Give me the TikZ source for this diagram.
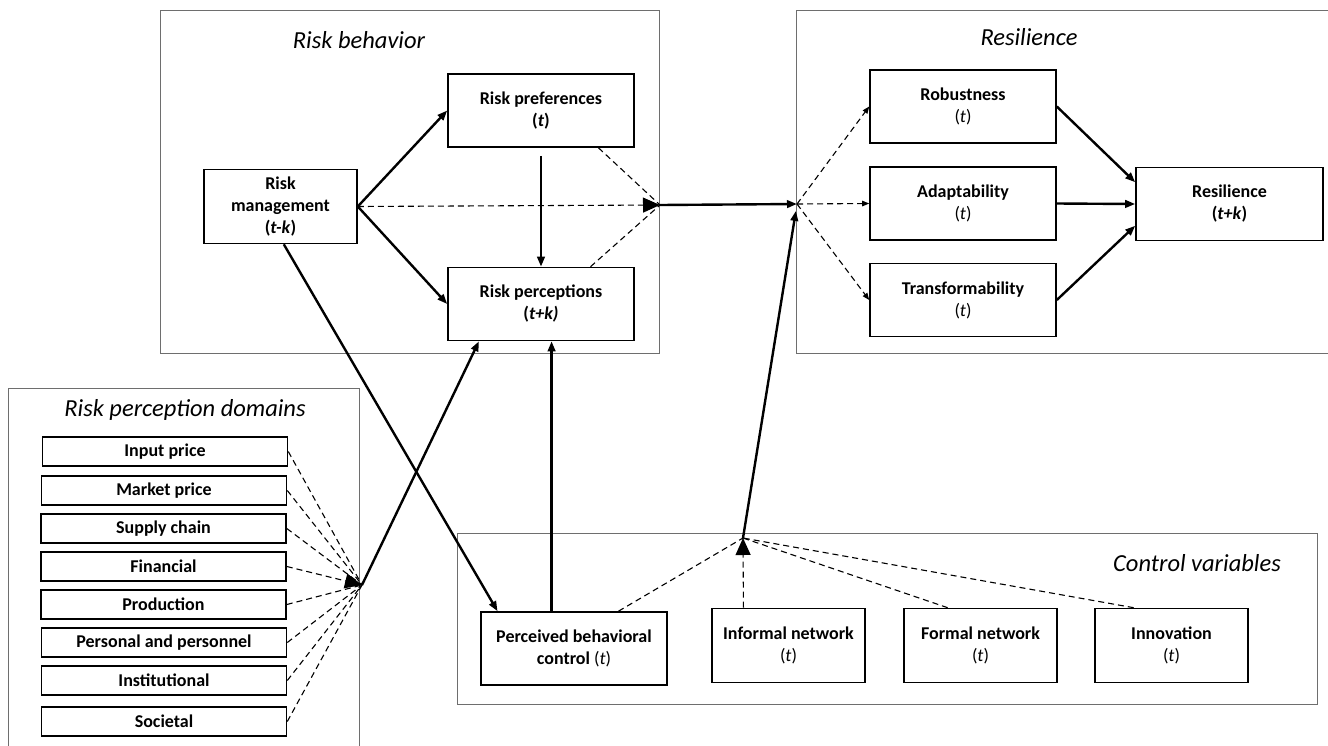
\documentclass[tikz,border=0pt]{standalone}
\usepackage{fontspec}
\setmainfont{Carlito}
\usetikzlibrary{arrows.meta, calc}
\definecolor{frGrey}{HTML}{6E6E6E}
\tikzset{
  frame/.style   = {draw=frGrey, line width=1pt},
  ttl/.style     = {font=\fontsize{24.5}{28}\selectfont\itshape},
  box/.style     = {draw, line width=1.6pt, align=center, inner sep=2pt,
                    font=\fontsize{18}{22}\selectfont\bfseries},
  wbox/.style    = {box, minimum width=186pt, minimum height=73pt},
  nbox/.style    = {box, minimum width=153pt, minimum height=74pt},
  dbox/.style    = {box, minimum width=245pt, minimum height=29pt,
                    font=\fontsize{18}{20}\selectfont\bfseries},
  sarrow/.style  = {-{Triangle[length=10pt,width=7.5pt]}, line width=2.4pt},
  dline/.style   = {line width=1.1pt, dash pattern=on 6pt off 4pt},
  darrow/.style  = {dline, -{Triangle[length=7pt,width=5.5pt]}},
  bigtip/.style  = {-{Triangle[length=17pt,width=15pt]}},
}
\begin{document}
\begin{tikzpicture}[x=1pt,y=-1pt]
  \useasboundingbox (0,0) rectangle (1328,745);
  % frames
  \draw[frame] (160,10) rectangle (659,353);
  \draw[frame] (796,10) rectangle (1340,353);
  \draw[frame] (8,388) rectangle (359,760);
  \draw[frame] (457,533) rectangle (1317,704);
  \node[ttl] (tBehav) at (359,40) {Risk behavior};
  \node[ttl] (tResil) at (1029,37) {Resilience};
  \node[ttl] (tDom) at (185,410) {Risk perception domains};
  \node[ttl] (tCtrl) at (1197,563) {Control variables};

  \node[nbox] (mgmt) at (280.5,206.5) {Risk\\management\\(\textit{t-k})};
  \node[wbox] (pref) at (541,110.5) {Risk preferences\\(\textit{t})};
  \node[wbox] (perc) at (541,304) {Risk perceptions\\(\textit{t+k)}};
  \node[wbox] (rob) at (963,106.5) {Robustness\\\mdseries(\textit{t})};
  \node[wbox] (adapt) at (963,203.5) {Adaptability\\\mdseries(\textit{t})};
  \node[wbox] (trans) at (963,300) {Transformability\\\mdseries(\textit{t})};
  \node[wbox, minimum width=187pt] (resil) at (1229.5,204) {Resilience\\(\textit{t+k})};

  \node[dbox] (dInput) at (165,451.5) {Input price};
  \node[dbox] (dMarket) at (164,490.5) {Market price};
  \node[dbox] (dSupply) at (163.5,528.5) {Supply chain};
  \node[dbox] (dFin) at (163.5,566.5) {Financial};
  \node[dbox] (dProd) at (163.5,604.5) {Production};
  \node[dbox] (dPers) at (164,642.5) {Personal and personnel};
  \node[dbox] (dInst) at (164,680.5) {Institutional};
  \node[dbox] (dSoc) at (164,721.5) {Societal};

  \node[wbox] (pbc) at (574,648.5) {Perceived behavioral\\control \mdseries(\textit{t})};
  \node[nbox] (inf) at (788.5,645.5) {Informal network\\\mdseries(\textit{t})};
  \node[nbox] (form) at (980.5,645.5) {Formal network\\\mdseries(\textit{t})};
  \node[nbox] (innov) at (1171.5,645.5) {Innovation\\\mdseries(\textit{t})};

  \coordinate (jL) at (660,205);
  \coordinate (jR) at (797,204);
  \coordinate (jD) at (362,585);
  \coordinate (jC) at (743,538);

  \draw[sarrow] (mgmt.east) -- (pref.west);
  \draw[sarrow] (mgmt.east) -- (perc.west);
  \draw[sarrow, shorten <=8pt] (pref.south) -- (perc.north);
  \draw[dline] (pref.-33) -- (jL);
  \draw[dline] (perc.37) -- (jL);
  \draw[dline, bigtip] (mgmt.east) -- (jL);
  \draw[sarrow] (jL) -- (jR);
  \draw[darrow] (jR) -- (rob.west);
  \draw[darrow] (jR) -- (adapt.west);
  \draw[darrow] (jR) -- (trans.west);
  \draw[sarrow] (rob.east) -- (resil.167);
  \draw[sarrow] (adapt.east) -- (resil.west);
  \draw[sarrow] (trans.east) -- (resil.193);

  \draw[sarrow] (mgmt.-85) -- (pbc.154);
  \draw[sarrow] (pbc.121) -- (pbc.121 |- perc.south);
  \draw[sarrow] (jD) -- (perc.211);
  \draw[sarrow, shorten >=7pt] (jC) -- (jR);

  \draw[dline] (dInput.east) -- (jD);
  \draw[dline] (dMarket.east) -- (jD);
  \draw[dline] (dSupply.east) -- (jD);
  \draw[dline, bigtip] (dFin.east) -- (jD);
  \draw[dline] (dProd.east) -- (jD);
  \draw[dline] (dPers.east) -- (jD);
  \draw[dline] (dInst.east) -- (jD);
  \draw[dline] (dSoc.east) -- (jD);

  \draw[dline] (pbc.40) -- (jC);
  \draw[dline, bigtip] (inf.140) -- (jC);
  \draw[dline] (form.131) -- (jC);
  \draw[dline] (innov.135) -- (jC);
\end{tikzpicture}
\end{document}
